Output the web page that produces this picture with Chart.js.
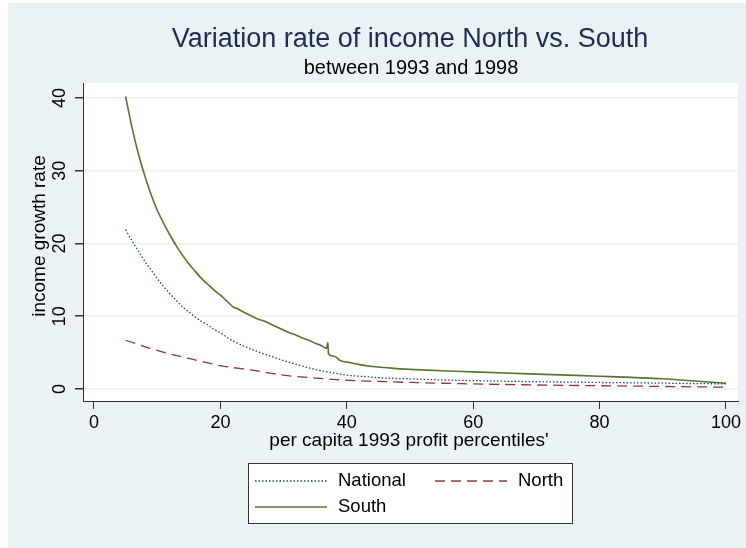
<!DOCTYPE html>
<html lang="en">
<head>
  <meta charset="UTF-8">
  <title>Variation rate of income North vs. South</title>
  <script src="https://cdn.jsdelivr.net/npm/chart.js"></script>
  <style>
    html, body { margin: 0; padding: 0; background: #ffffff; }
    #wrap { width: 746px; height: 548px; }
  </style>
</head>
<body>
<div id="wrap"><canvas id="incomeChart" width="746" height="548"></canvas></div>
<script>
  // values
  const southX = [5, 6, 7, 8, 9, 10, 11, 12, 13, 14, 15, 16, 17, 18, 19, 20, 21, 22, 23, 24, 25, 26, 27, 28, 29, 30,
    31, 32, 33, 34, 35, 36, 36.8, 37, 37.1, 38, 39, 40, 42, 44, 46, 48, 50, 55, 60, 65, 70, 75, 80, 85, 90, 95, 100];
  const southY = [40.2, 36.0, 32.4, 29.4, 26.8, 24.6, 22.8, 21.2, 19.7, 18.4, 17.2, 16.2, 15.2, 14.4, 13.6, 12.9, 12.1, 11.3, 10.9, 10.4, 10.0, 9.6, 9.3, 8.9, 8.5, 8.1,
    7.7, 7.4, 7.0, 6.7, 6.3, 5.95, 5.6, 6.4, 4.8, 4.5, 3.9, 3.7, 3.35, 3.1, 2.95, 2.8, 2.7, 2.5, 2.35, 2.2, 2.05, 1.9, 1.75, 1.6, 1.4, 1.1, 0.8];

  const nationalX = [5, 6, 7, 8, 9, 10, 11, 12, 13, 14, 15, 16, 17, 18, 19, 20, 22, 24, 26, 28, 30, 32, 34, 36, 38, 40, 43, 46, 50, 55, 60, 70, 80, 90, 100];
  const nationalY = [21.9, 20.4, 19.0, 17.6, 16.4, 15.2, 14.1, 13.1, 12.2, 11.3, 10.6, 9.9, 9.3, 8.8, 8.2, 7.7, 6.6, 5.8, 5.1, 4.5, 3.9, 3.4, 2.9, 2.5, 2.2, 1.9, 1.7, 1.5, 1.4, 1.25, 1.15, 1.0, 0.9, 0.8, 0.7];

  const northX = [5, 10, 15, 17, 20, 25, 30, 35, 40, 45, 50, 60, 70, 80, 90, 100];
  const northY = [6.7, 5.3, 4.2, 3.8, 3.2, 2.6, 1.9, 1.5, 1.2, 1.05, 0.9, 0.7, 0.55, 0.45, 0.35, 0.25];

  const xTicks = [0, 20, 40, 60, 80, 100];
  const yTicks = [0, 10, 20, 30, 40];

  const titleText = 'Variation rate of income North vs. South';
  const subtitleText = 'between 1993 and 1998';
  const xTitle = "per capita 1993 profit percentiles'";
  const yTitle = 'income growth rate';

  const FONT = '"Liberation Sans", Arial, sans-serif';
  const BG = '#eaf2f3';
  const NAVY = '#1a476f';
  const MAROON = '#90353b';
  const GREEN = '#55752f';

  function toPoints(xs, ys) {
    return xs.map((x, i) => ({ x: x, y: ys[i] }));
  }

  const decor = {
    id: 'decor',
    beforeDraw(chart) {
      const c = chart.ctx;
      const a = chart.chartArea;
      c.save();
      c.fillStyle = '#ffffff';
      c.fillRect(0, 0, chart.width, chart.height);
      c.fillStyle = BG;
      c.fillRect(8, 3, chart.width - 8, chart.height - 3);
      c.fillStyle = '#ffffff';
      c.fillRect(a.left, a.top, a.right - a.left, a.bottom - a.top);
      c.restore();
    },
    afterDraw(chart) {
      const c = chart.ctx;
      const xs = chart.scales.x;
      const ys = chart.scales.y;
      c.save();
      c.textAlign = 'center';
      c.textBaseline = 'middle';

      c.fillStyle = '#1e2c55';
      c.font = '27px ' + FONT;
      c.fillText(titleText, 410, 40);
      c.fillStyle = '#000000';
      c.font = '20px ' + FONT;
      c.fillText(subtitleText, 411, 68);

      c.font = '18px ' + FONT;
      xTicks.forEach(v => c.fillText(String(v), xs.getPixelForValue(v), 423));
      yTicks.forEach(v => {
        c.save();
        c.translate(60, ys.getPixelForValue(v));
        c.rotate(-Math.PI / 2);
        c.fillText(String(v), 0, 0);
        c.restore();
      });

      c.font = '19px ' + FONT;
      c.fillText(xTitle, 409, 441);
      c.save();
      c.translate(40, 236);
      c.rotate(-Math.PI / 2);
      c.fillText(yTitle, 0, 0);
      c.restore();

      // legend box
      c.fillStyle = '#ffffff';
      c.fillRect(248, 463, 325, 61);
      c.strokeStyle = '#333333';
      c.lineWidth = 1;
      c.strokeRect(248.5, 463.5, 324, 60);

      const entries = [
        { label: 'National', color: NAVY, dash: [1.5, 2], x: 255, y: 481, w: 1.3 },
        { label: 'North', color: MAROON, dash: [10, 6], x: 435, y: 481, w: 1.3 },
        { label: 'South', color: GREEN, dash: [], x: 255, y: 507, w: 1.6 }
      ];
      c.textAlign = 'left';
      c.font = '18.5px ' + FONT;
      entries.forEach(e => {
        c.beginPath();
        c.setLineDash(e.dash);
        c.strokeStyle = e.color;
        c.lineWidth = e.w;
        c.moveTo(e.x, e.y);
        c.lineTo(e.x + 72, e.y);
        c.stroke();
        c.setLineDash([]);
        c.fillStyle = '#000000';
        c.fillText(e.label, e.x + 83, e.y);
      });
      c.restore();
    }
  };

  const ctx = document.getElementById('incomeChart').getContext('2d');
  new Chart(ctx, {
    type: 'line',
    data: {
      datasets: [
        {
          label: 'National',
          data: toPoints(nationalX, nationalY),
          borderColor: NAVY,
          borderWidth: 1.3,
          borderDash: [1.5, 2],
          pointRadius: 0,
          cubicInterpolationMode: 'monotone'
        },
        {
          label: 'North',
          data: toPoints(northX, northY),
          borderColor: MAROON,
          borderWidth: 1.3,
          borderDash: [10, 6],
          pointRadius: 0,
          cubicInterpolationMode: 'monotone'
        },
        {
          label: 'South',
          data: toPoints(southX, southY),
          borderColor: GREEN,
          borderWidth: 1.6,
          pointRadius: 0,
          cubicInterpolationMode: 'monotone'
        }
      ]
    },
    options: {
      responsive: false,
      animation: false,
      layout: { padding: { left: 75, right: 8, top: 83, bottom: 139 } },
      plugins: {
        legend: { display: false },
        title: { display: false },
        tooltip: { enabled: false }
      },
      scales: {
        x: {
          type: 'linear',
          min: -1.74,
          max: 101.9,
          afterBuildTicks: s => { s.ticks = xTicks.map(v => ({ value: v })); },
          ticks: { display: false },
          grid: { drawOnChartArea: false, drawTicks: true, tickLength: 8, tickColor: '#333333' },
          border: { display: true, color: '#333333', width: 1 }
        },
        y: {
          type: 'linear',
          min: -1.65,
          max: 42.06,
          afterBuildTicks: s => { s.ticks = yTicks.map(v => ({ value: v })); },
          ticks: { display: false },
          grid: { color: BG, lineWidth: 1.5, drawTicks: true, tickLength: 8, tickColor: '#333333' },
          border: { display: true, color: '#333333', width: 1 }
        }
      }
    },
    plugins: [decor]
  });
</script>
</body>
</html>
